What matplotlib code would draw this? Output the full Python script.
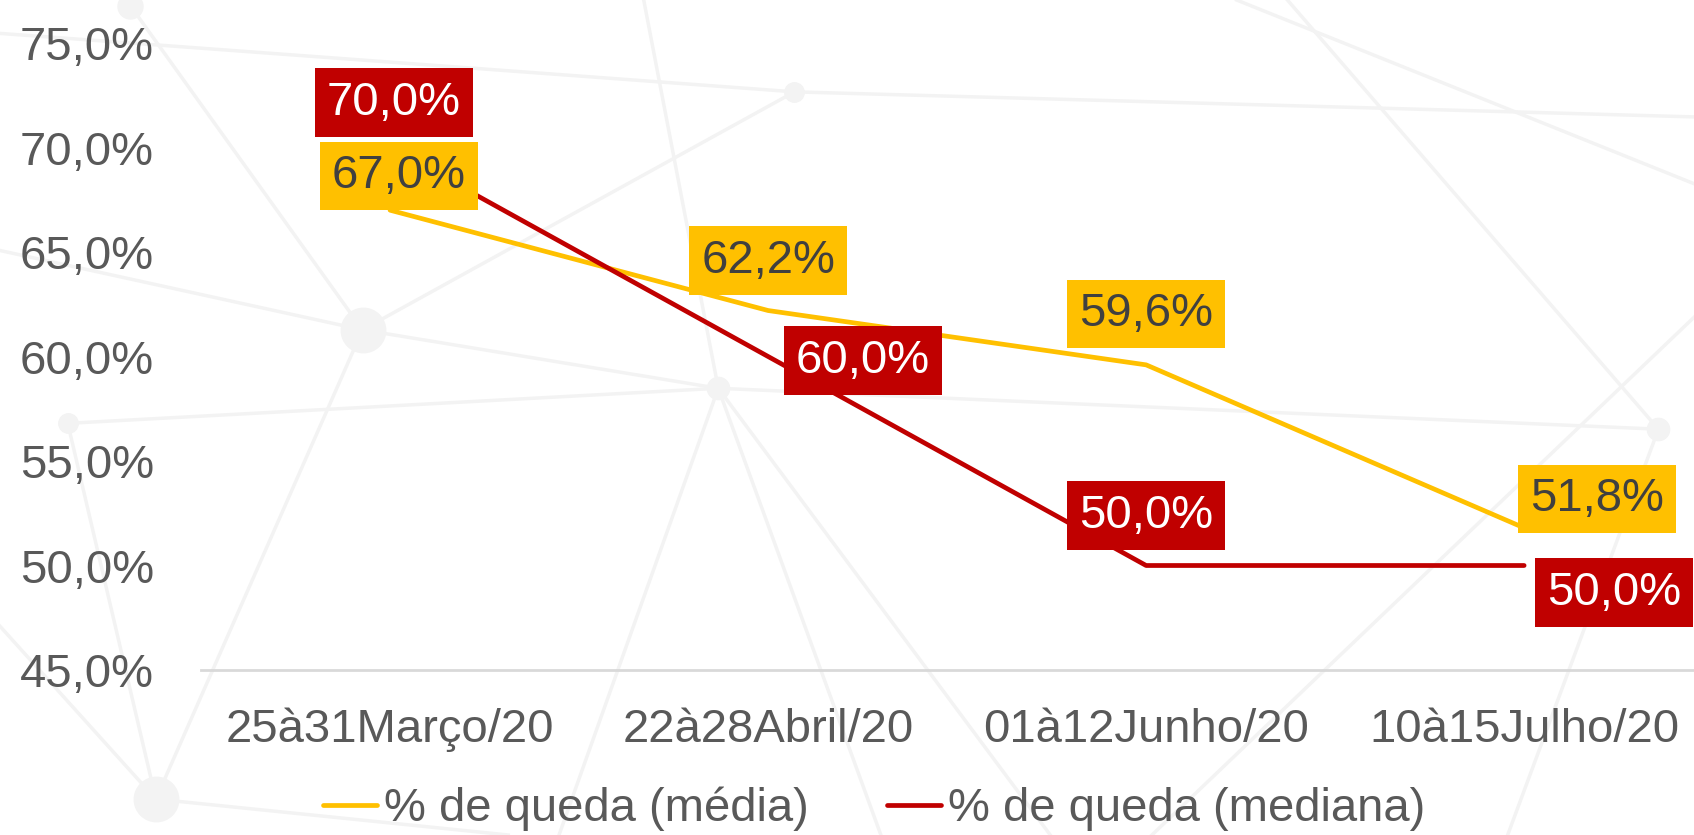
import matplotlib
matplotlib.use("Agg")
import matplotlib.pyplot as plt
from matplotlib.lines import Line2D

plt.rcParams['font.family'] = ['Liberation Sans', 'DejaVu Sans']

# data
periods = ["25à31Março/20", "22à28Abril/20", "01à12Junho/20", "10à15Julho/20"]
queda_media = [67.0, 62.2, 59.6, 51.8]
queda_mediana = [70.0, 60.0, 50.0, 50.0]
yticks = [45, 50, 55, 60, 65, 70, 75]

# label offsets from the point, in pixels (dx, dy)
off_media = [(9, 34), (0, 50), (0, 51), (73, 29)]
off_mediana = [(4, 45), (95, -4), (0, 50), (90, -27)]

YELLOW = "#FFC000"
RED = "#C00000"
GREY_TXT = "#595959"
DARK_TXT = "#404040"
BG_LINE = "#F3F3F3"
FS = 34

# faint network drawn behind the chart (figure fraction)
net_nodes = [(0.077, 0.993), (0.469, 0.890), (0.214, 0.605), (0.424, 0.535),
             (0.040, 0.493), (0.979, 0.486), (0.092, 0.043)]
net_sizes = [18, 14, 32, 16, 14, 16, 32]
net_edges = [((0.00, 0.96), (0.469, 0.890)), ((0.469, 0.890), (1.0, 0.86)),
             ((0.077, 0.993), (0.214, 0.605)), ((0.214, 0.605), (0.424, 0.535)),
             ((0.424, 0.535), (0.979, 0.486)), ((0.040, 0.493), (0.424, 0.535)),
             ((0.214, 0.605), (0.092, 0.043)), ((0.424, 0.535), (0.52, 0.0)),
             ((0.424, 0.535), (0.33, 0.0)), ((0.76, 1.0), (0.979, 0.486)),
             ((0.979, 0.486), (0.89, 0.0)), ((1.0, 0.62), (0.68, 0.0)),
             ((0.38, 1.0), (0.424, 0.535)), ((0.0, 0.70), (0.214, 0.605)),
             ((0.469, 0.890), (0.214, 0.605)), ((0.040, 0.493), (0.092, 0.043)),
             ((0.092, 0.043), (0.30, 0.0)), ((0.0, 0.25), (0.092, 0.043)),
             ((0.73, 1.0), (1.0, 0.78)), ((0.424, 0.535), (0.62, 0.0))]

fig = plt.figure(figsize=(16.94, 8.35), dpi=100)
for (x0, y0), (x1, y1) in net_edges:
    fig.add_artist(Line2D([x0, x1], [y0, y1], transform=fig.transFigure,
                          color=BG_LINE, lw=2.5, zorder=0))
for (x, y), s in zip(net_nodes, net_sizes):
    fig.add_artist(Line2D([x], [y], transform=fig.transFigure, marker='o',
                          markersize=s, color=BG_LINE, zorder=0))

ax = fig.add_axes([0.1187, 0.1976, 0.8926, 0.7509])
ax.patch.set_alpha(0)

xs = list(range(len(periods)))
ax.plot(xs, queda_media, color=YELLOW, lw=3.4, solid_capstyle='round',
        label="% de queda (média)", zorder=2)
ax.plot(xs, queda_mediana, color=RED, lw=3.4, solid_capstyle='round',
        label="% de queda (mediana)", zorder=2)


def fmt(v):
    return f"{v:.1f}%".replace(".", ",")


for x, v, (dx, dy) in zip(xs, queda_media, off_media):
    ax.annotate(fmt(v), (x, v), xytext=(dx, dy), textcoords='offset pixels',
                ha='center', va='center', fontsize=FS, color=DARK_TXT,
                bbox=dict(boxstyle='square,pad=0.26', fc=YELLOW, ec='none'),
                annotation_clip=False, zorder=3)
for x, v, (dx, dy) in zip(xs, queda_mediana, off_mediana):
    ax.annotate(fmt(v), (x, v), xytext=(dx, dy), textcoords='offset pixels',
                ha='center', va='center', fontsize=FS, color='white',
                bbox=dict(boxstyle='square,pad=0.26', fc=RED, ec='none'),
                annotation_clip=False, zorder=4)

ax.set_xlim(-0.5, len(periods) - 0.5)
ax.set_ylim(45, 75)
ax.set_xticks(xs)
ax.set_xticklabels(periods)
ax.set_yticks(yticks)
ax.set_yticklabels([f"{t:.1f}%".replace(".", ",") for t in yticks])
ax.tick_params(axis='both', length=0, labelsize=FS, colors=GREY_TXT)
ax.tick_params(axis='x', pad=27)
ax.tick_params(axis='y', pad=34)
for side in ['top', 'right', 'left']:
    ax.spines[side].set_visible(False)
ax.spines['bottom'].set_color("#D9D9D9")
ax.spines['bottom'].set_linewidth(2)

leg = fig.legend(loc='center', bbox_to_anchor=(0.516, 0.031), ncol=2,
                 frameon=False, fontsize=FS, handlelength=1.15,
                 handletextpad=0.15, columnspacing=1.65, labelcolor=GREY_TXT,
                 borderpad=0.1)

fig.savefig("out.png", dpi=100)
